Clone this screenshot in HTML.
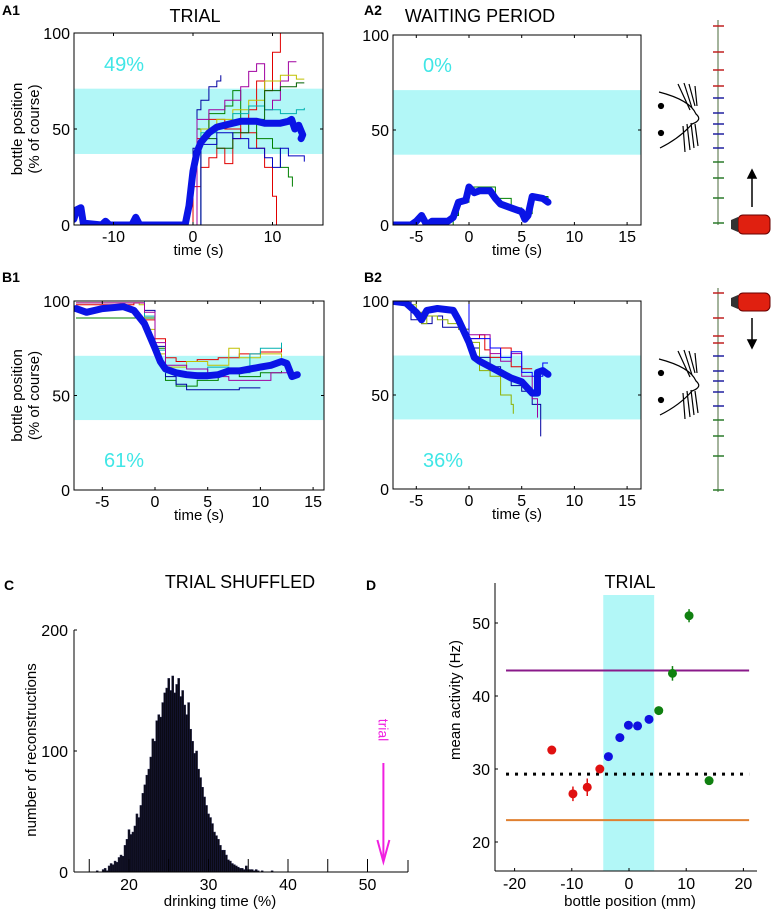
<!DOCTYPE html>
<html><head><meta charset="utf-8">
<style>
body{margin:0;background:#fff;}
svg{display:block;font-family:"Liberation Sans",Arial,sans-serif;}
</style></head>
<body>
<svg id="fig" width="773" height="916" viewBox="0 0 773 916" xmlns="http://www.w3.org/2000/svg">
<g font-weight="bold" font-size="14" fill="#000">
<text x="2" y="15">A1</text>
<text x="364" y="15">A2</text>
<text x="2" y="282">B1</text>
<text x="364" y="282">B2</text>
<text x="4" y="590">C</text>
<text x="366" y="590">D</text>
</g>
<g font-size="18" text-anchor="middle">
<text x="195" y="22">TRIAL</text>
<text x="480" y="22">WAITING PERIOD</text>
<text x="240" y="588">TRIAL SHUFFLED</text>
<text x="630" y="588">TRIAL</text>
</g>
<g id="layer"></g>

<g stroke="#000" fill="none" stroke-width="1.2">
<circle cx="661" cy="106" r="2.5" fill="#000"/><circle cx="661" cy="133" r="2.5" fill="#000"/>
<path d="M659 92 Q690 100 696 114 Q703 120 692 124 Q680 138 660 148"/>
<path d="M678 84 L690 110 M684 83 L692 108 M689 84 L695 106 M695 86 L697 106 M683 126 L685 152 M687 124 L690 150 M691 123 L694 148 M695 124 L698 146"/>
</g>
<g stroke="#000" fill="none" stroke-width="1.2">
<circle cx="661" cy="373" r="2.5" fill="#000"/><circle cx="661" cy="400" r="2.5" fill="#000"/>
<path d="M659 359 Q690 367 696 381 Q703 387 692 391 Q680 405 660 415"/>
<path d="M678 351 L690 377 M684 350 L692 375 M689 351 L695 373 M695 353 L697 373 M683 393 L685 419 M687 391 L690 417 M691 390 L694 415 M695 391 L698 413"/>
</g>
<g>
<rect x="738" y="215" width="32" height="19" rx="5" fill="#e02010" stroke="#600" stroke-width="1"/>
<path d="M738 217 L731 220 L731 229 L738 232 Z" fill="#333"/>
</g>
<g>
<rect x="738" y="293" width="32" height="18" rx="5" fill="#e02010" stroke="#600" stroke-width="1"/>
<path d="M738 295 L731 298 L731 306 L738 309 Z" fill="#333"/>
</g>
<g stroke="#000" stroke-width="1.5" fill="#000">
<line x1="752" y1="207" x2="752" y2="176"/><path d="M748 178 L752 170 L756 178 Z"/>
<line x1="752" y1="318" x2="752" y2="342"/><path d="M748 340 L752 348 L756 340 Z"/>
</g>
</svg>
<script>
var NS="http://www.w3.org/2000/svg";
var layer=document.getElementById('layer');
var bandLow=37, bandHigh=71;
var a1Mean=[[-15,3],[-14.6,8],[-14.1,9],[-13.8,1],[-11.5,0],[-11,2],[-10.5,0],[-7.7,0],[-7.2,4],[-6.7,0],[-1,0],[-0.5,10],[0,28],[0.5,38],[1,43],[2,48],[3,51],[4,52],[5,53],[6,54],[7,54],[8,54],[9,53],[10,53],[11,53],[12,54],[12.4,55],[12.8,50],[13.3,52],[13.8,47],[13.6,45]];
var a1Traces=[
 [[-1,0],[0,40],[0.5,60],[1,65],[2,72],[3,75],[3.5,78]],
 [[-1.5,0],[0,20],[1,30],[2,35],[3,40],[4,32],[5,45],[6,55],[7,60],[8,75],[9,70],[10,90],[11,100]],
 [[-0.5,0],[0.5,45],[2,55],[4,50],[6,48],[8,40],[9,30],[10,15],[10.5,0]],
 [[-0.8,0],[0.5,50],[2,58],[4,62],[5,70],[6,55],[8,45],[10,40],[11,30],[12,25],[12.5,20]],
 [[-0.6,0],[0.5,55],[2,60],[4,65],[6,72],[7,80],[8,84],[9,60],[10,65],[11,75],[12,85],[13,85]],
 [[-1,0],[1,50],[3,55],[5,60],[7,65],[9,75],[11,78],[13,76],[14,76]],
 [[-0.7,0],[1,48],[3,52],[5,58],[7,62],[9,60],[11,58],[13,60],[14,61]],
 [[-0.5,0],[1,45],[3,40],[5,48],[7,55],[9,70],[11,72],[13,74],[14,74]],
 [[-0.5,0],[1,42],[3,48],[5,45],[7,40],[9,35],[10,30],[11,40],[12,36],[13,36],[14,33]]];
var a1Colors=['#0000a0','#e00000','#e00000','#008000','#a000a0','#c0c000','#00b0b0','#006000','#0000c0'];
var a2Mean=[[-7.5,0],[-5.5,0],[-5,2],[-4.5,5],[-4,0],[-3.5,2],[-2,2],[-1.5,4],[-1,12],[-0.3,13],[0,20],[0.5,17],[1,18],[2,18],[2.5,14],[3,11],[4,9],[5,7],[5.3,3],[5.6,5],[6,15],[7,14],[7.5,12]];
var a2Traces=[[[-7.5,0],[-2,0],[-1.5,5],[-1,12],[0,20],[2.3,20],[2.5,14],[4,9],[5,6],[6,15],[7.5,14]]];
var a2Colors=['#008000'];
var b1Mean=[[-7.5,96],[-6.5,94],[-5,96],[-3,97],[-2,95],[-1,88],[0,75],[0.5,68],[1,64],[2,62],[3,61],[4,60.5],[5,60.5],[6,61],[7,63],[8,63],[9,64],[10,65],[11,66],[12,68],[12.5,67],[13,60],[13.5,61]];
var b1Traces=[
 [[-7.5,98],[-2,99],[-1,90],[0,80],[1,70],[2,68],[4,69],[6,70],[8,72],[10,73],[12,76]],
 [[-7.5,91],[-1.5,91],[0,75],[1,58],[2,55],[4,58],[6,62],[8,60],[10,62],[12,63]],
 [[-7.5,99],[-1.5,98],[-1,85],[0,72],[1,65],[3,68],[5,66],[7,75],[8,70],[10,72],[12,70]],
 [[-7.5,100],[-1,95],[0,76],[1,60],[2,56],[3,53],[6,53],[8,54],[10,54]],
 [[-7.5,100],[-1,92],[0,74],[1,62],[3,62],[5,65],[7,62],[9,72],[10,75],[12,78]],
 [[-7.5,99],[-1,94],[0,78],[1,66],[3,64],[5,60],[7,58],[9,58],[11,62],[13,60]]];
var b1Colors=['#e00000','#008000','#c0c000','#0000a0','#00b0b0','#a000a0'];
var b2Mean=[[-7.5,100],[-6,99],[-5,94],[-4.5,90],[-4,95],[-3,96],[-1.5,95],[-1,90],[0,78],[0.5,70],[1,68],[2,65],[3,62],[4,59],[5,57],[6,51],[6.5,51],[6.5,62],[7,63],[7.5,61]];
var b2Traces=[
 [[-6,100],[-5.5,90],[-4.5,88],[-3.5,92],[-2.5,86],[-1,85],[0,75],[1,70],[2,65],[3,60],[4,55],[5,52],[6,45],[6.8,28]],
 [[-6,98],[-5,94],[-4.5,88],[-4,92],[-3,90],[-2,88],[-1,85],[0,78],[1,63],[2,60],[3,50],[4,45],[4.2,40]],
 [[-1,100],[0,80],[1,82],[1.5,74],[2,70],[3,75],[4,65],[5,64],[6,64]],
 [[-1.5,100],[0,82],[2,72],[3,68],[4,72],[5,60],[6,48],[6.5,38]],
 [[-2,100],[0,80],[2,75],[3,70],[4,73],[5,62],[6,60],[7,67],[7.5,67]]];
var b2Colors=['#0000a0','#90b000','#e00000','#a000a0','#0000ff'];
var pctA1='49%', pctA2='0%', pctB1='61%', pctB2='36%';
var histStart=16.0, histStep=0.25;
var histCounts=[1,0,0,2,3,1,5,7,6,9,8,12,14,13,22,27,35,31,33,38,48,45,55,65,72,80,85,95,110,108,125,130,128,140,148,152,160,150,162,148,155,160,145,150,138,130,140,118,108,98,100,85,78,70,62,55,48,45,40,33,30,27,22,18,18,14,10,9,7,6,5,4,3,3,2,5,2,2,2,1,2,1,0,1,0,0,0,0,1];
var cXTicks=[20,30,40,50], cYTicks=[0,100,200];
var trialValue=52;
var dRedX=[-13.5,-9.8,-7.3,-5.1], dRedY=[32.6,26.6,27.5,30], dRedErr=[0.3,1,1.2,0.4];
var dBlueX=[-3.6,-1.6,-0.1,1.5,3.5], dBlueY=[31.7,34.3,36,35.9,36.8], dBlueErr=[0.3,0.3,0.3,0.3,0.3];
var dGreenX=[5.2,7.6,10.5,14], dGreenY=[38,43.1,51,28.4], dGreenErr=[0.5,1,0.9,0.3];
var dPurple=43.5, dOrange=23, dDotted=29.3, dBandLo=-4.5, dBandHi=4.4;
var dXTicks=[-20,-10,0,10,20], dYTicks=[20,30,40,50];

function el(tag,attrs,parent){var e=document.createElementNS(NS,tag);for(var k in attrs)e.setAttribute(k,attrs[k]);(parent||layer).appendChild(e);return e;}
function txt(x,y,s,size,anchor,parent,extra){var t=el('text',{x:x,y:y,'font-size':size,'text-anchor':anchor||'middle'},parent);if(extra)for(var k in extra)t.setAttribute(k,extra[k]);t.textContent=s;return t;}
function stepPath(pts,sx,sy){var d='M'+sx(pts[0][0]).toFixed(1)+' '+sy(pts[0][1]).toFixed(1);for(var i=1;i<pts.length;i++){d+=' H'+sx(pts[i][0]).toFixed(1)+' V'+sy(pts[i][1]).toFixed(1);}return d;}
function linePath(pts,sx,sy){return pts.map(function(p,i){return (i?'L':'M')+sx(p[0]).toFixed(1)+' '+sy(p[1]).toFixed(1);}).join(' ');}

function trajPanel(name,L,R,T,B,x0,xs,xticks,mean,traces,colors,pct,pctY,ylab){
  var g=el('g',{});
  
  
  var sx=function(t){return x0+t*xs;};
  var sy=function(v){return B-v*(B-T)/100;};
  var cid=name+'-clip';
  var cp=el('clipPath',{id:cid},g);el('rect',{x:L,y:T,width:R-L,height:B-T},cp);
  var band=el('rect',{x:L,y:sy(bandHigh),width:R-L,height:sy(bandLow)-sy(bandHigh),fill:'#b2f7f7'},g);
  
  
  var pt=txt(L+30,pctY,pct,20,'start',g,{fill:'#40e6e6'});
  
  
  var tg=el('g',{'clip-path':'url(#'+cid+')'},g);
  traces.forEach(function(tr,i){
    var p=el('path',{d:stepPath(tr,sx,sy),fill:'none',stroke:colors[i],'stroke-width':1},tg);
    
    
  });
  var m=el('path',{d:linePath(mean,sx,sy),fill:'none',stroke:'#0a14e6','stroke-width':7,'stroke-linejoin':'round','stroke-linecap':'round'},tg);
  
  
  var ax=el('rect',{x:L,y:T,width:R-L,height:B-T,fill:'none',stroke:'#000','stroke-width':1},g);
  
  
  xticks.forEach(function(v){
    var x=sx(v);
    el('line',{x1:x,y1:B,x2:x,y2:B-3,stroke:'#000'},g);el('line',{x1:x,y1:T,x2:x,y2:T+3,stroke:'#000'},g);
    var t=txt(x,B+17,String(v),16,'middle',g);
    
    
  });
  [0,50,100].forEach(function(v){
    var y=sy(v);
    el('line',{x1:L,y1:y,x2:L+3,y2:y,stroke:'#000'},g);el('line',{x1:R,y1:y,x2:R-3,y2:y,stroke:'#000'},g);
    var t=txt(L-4,y+6,String(v),16,'end',g);
    
    
  });
  var xl=txt((L+R)/2,B+30,'time (s)',15,'middle',g);
  
  
  if(ylab){
    var cy=(T+B)/2;
    var y1=txt(0,0,'bottle position',15,'middle',g,{transform:'translate(22,'+cy+') rotate(-90)'});
    
    
    var y2=txt(0,0,'(% of course)',15,'middle',g,{transform:'translate(39,'+cy+') rotate(-90)'});
    
    
  }
}
trajPanel('panel-a1',74,323,33,225,193,7.95,[-10,0,10],a1Mean,a1Traces,a1Colors,pctA1,71,true);
trajPanel('panel-a2',393,641,35,225,469,10.54,[-5,0,5,10,15],a2Mean,a2Traces,a2Colors,pctA2,72,false);
trajPanel('panel-b1',74,324,301,490,155,10.54,[-5,0,5,10,15],b1Mean,b1Traces,b1Colors,pctB1,467,true);
trajPanel('panel-b2',393,641,301,489,469,10.54,[-5,0,5,10,15],b2Mean,b2Traces,b2Colors,pctB2,467,false);

function ruler(name,top,bot,ticks){
  var g=el('g',{});
  
  
  el('line',{x1:718,y1:top,x2:718,y2:bot,stroke:'#4a6a3a','stroke-width':1},g);
  ticks.forEach(function(t){el('line',{x1:713,y1:t[0],x2:724,y2:t[0],stroke:t[1],'stroke-width':1.5},g);});
}
var rulerTopTicks=[[26,'#c02020'],[52,'#c02020'],[70,'#c02020'],[86,'#c02020'],[98,'#2020a0'],[113,'#2020a0'],[124,'#2020a0'],[134,'#2020a0'],[148,'#2020a0'],[162,'#2a7a2a'],[178,'#2a7a2a'],[198,'#2a7a2a'],[223,'#2a7a2a']];
var rulerBotTicks=[[293,'#c02020'],[318,'#c02020'],[336,'#c02020'],[343,'#c02020'],[356,'#2020a0'],[371,'#2020a0'],[381,'#2020a0'],[392,'#2020a0'],[406,'#2020a0'],[420,'#2a7a2a'],[436,'#2a7a2a'],[456,'#2a7a2a'],[490,'#2a7a2a']];
ruler('position-ruler-top',20,225,rulerTopTicks);
ruler('position-ruler-bottom',288,492,rulerBotTicks);

(function(){
  var g=el('g',{});
  
  
  var L=74,R=408,T=630,B=872;
  var sx=function(v){return 288+(v-40)*7.95;};
  var sy=function(c){return B-c*(B-T)/200;};
  histCounts.forEach(function(c,i){
    if(c<=0)return;
    var x=sx(histStart+i*histStep);
    var r=el('rect',{x:x-1,y:sy(c),width:sx(histStep)-sx(0),height:B-sy(c),fill:'#0a0a14',stroke:'#1a1a40','stroke-width':0.5},g);
    
    
  });
  el('line',{x1:L,y1:T,x2:L,y2:B,stroke:'#000'},g);
  el('line',{x1:L,y1:B,x2:R,y2:B,stroke:'#000'},g);
  el('line',{x1:R,y1:B,x2:R,y2:B-12,stroke:'#000'},g);
  [15,20,25,30,35,40,45,50].forEach(function(v){el('line',{x1:sx(v),y1:B,x2:sx(v),y2:B-13,stroke:'#000'},g);});
  cXTicks.forEach(function(v){var t=txt(sx(v),B+18,String(v),16,'middle',g);
    
    });
  cYTicks.forEach(function(v){el('line',{x1:L,y1:sy(v),x2:L+3,y2:sy(v),stroke:'#000'},g);
    var t=txt(L-6,sy(v)+6,String(v),16,'end',g);
    
    });
  var xl=txt(220,906,'drinking time (%)',15,'middle',g);
  
  
  var yl=txt(0,0,'number of reconstructions',15,'middle',g,{transform:'translate(36,750) rotate(-90)'});
  
  
  var ax=sx(trialValue);
  var ar=el('g',{stroke:'#f020e0','stroke-width':2,fill:'none'},g);
  
  
  el('line',{x1:ax,y1:763,x2:ax,y2:860},ar);
  el('path',{d:'M'+(ax-6)+' 840 L'+ax+' 862 L'+(ax+6)+' 840'},ar);
  var tt=txt(0,0,'trial',14,'middle',g,{fill:'#f020e0',transform:'translate('+(ax-5)+',730) rotate(90)'});
  
  
})();

(function(){
  var g=el('g',{});
  
  
  var L=495,R=757,T=583,B=871;
  var sx=function(v){return 629+v*5.72;};
  var sy=function(v){return 842-(v-20)*7.3;};
  var band=el('rect',{x:sx(dBandLo),y:595,width:sx(dBandHi)-sx(dBandLo),height:B-595,fill:'#b2f7f7'},g);
  
  
  var hp=el('line',{x1:sx(-21.5),x2:sx(21),y1:sy(dPurple),y2:sy(dPurple),stroke:'#8a1a8a','stroke-width':2},g);
  
  
  var ho=el('line',{x1:sx(-21.5),x2:sx(21),y1:sy(dOrange),y2:sy(dOrange),stroke:'#e08030','stroke-width':2},g);
  
  
  var hd=el('line',{x1:sx(-21.5),x2:sx(21),y1:sy(dDotted),y2:sy(dDotted),stroke:'#000','stroke-width':3,'stroke-dasharray':'3 6'},g);
  
  
  function pts(xs,ys,es,col){
    xs.forEach(function(x,i){
      el('line',{x1:sx(x),x2:sx(x),y1:sy(ys[i]-es[i]),y2:sy(ys[i]+es[i]),stroke:col,'stroke-width':1.5},g);
      var c=el('circle',{cx:sx(x),cy:sy(ys[i]),r:4.5,fill:col},g);
      
      
    });
  }
  pts(dRedX,dRedY,dRedErr,'#e01010');
  pts(dBlueX,dBlueY,dBlueErr,'#1010e0');
  pts(dGreenX,dGreenY,dGreenErr,'#108010');
  el('line',{x1:L,y1:T,x2:L,y2:B,stroke:'#000'},g);
  el('line',{x1:L,y1:B,x2:R,y2:B,stroke:'#000'},g);
  dXTicks.forEach(function(v){el('line',{x1:sx(v),y1:B,x2:sx(v),y2:B-3,stroke:'#000'},g);
    var t=txt(sx(v),B+18,String(v),16,'middle',g);
    
    });
  dYTicks.forEach(function(v){el('line',{x1:L,y1:sy(v),x2:L+3,y2:sy(v),stroke:'#000'},g);
    var t=txt(L-5,sy(v)+6,String(v),16,'end',g);
    
    });
  var xl=txt(630,906,'bottle position (mm)',15,'middle',g);
  
  
  var yl=txt(0,0,'mean activity (Hz)',15,'middle',g,{transform:'translate(460,700) rotate(-90)'});
  
  
})();
</script>
</body></html>
